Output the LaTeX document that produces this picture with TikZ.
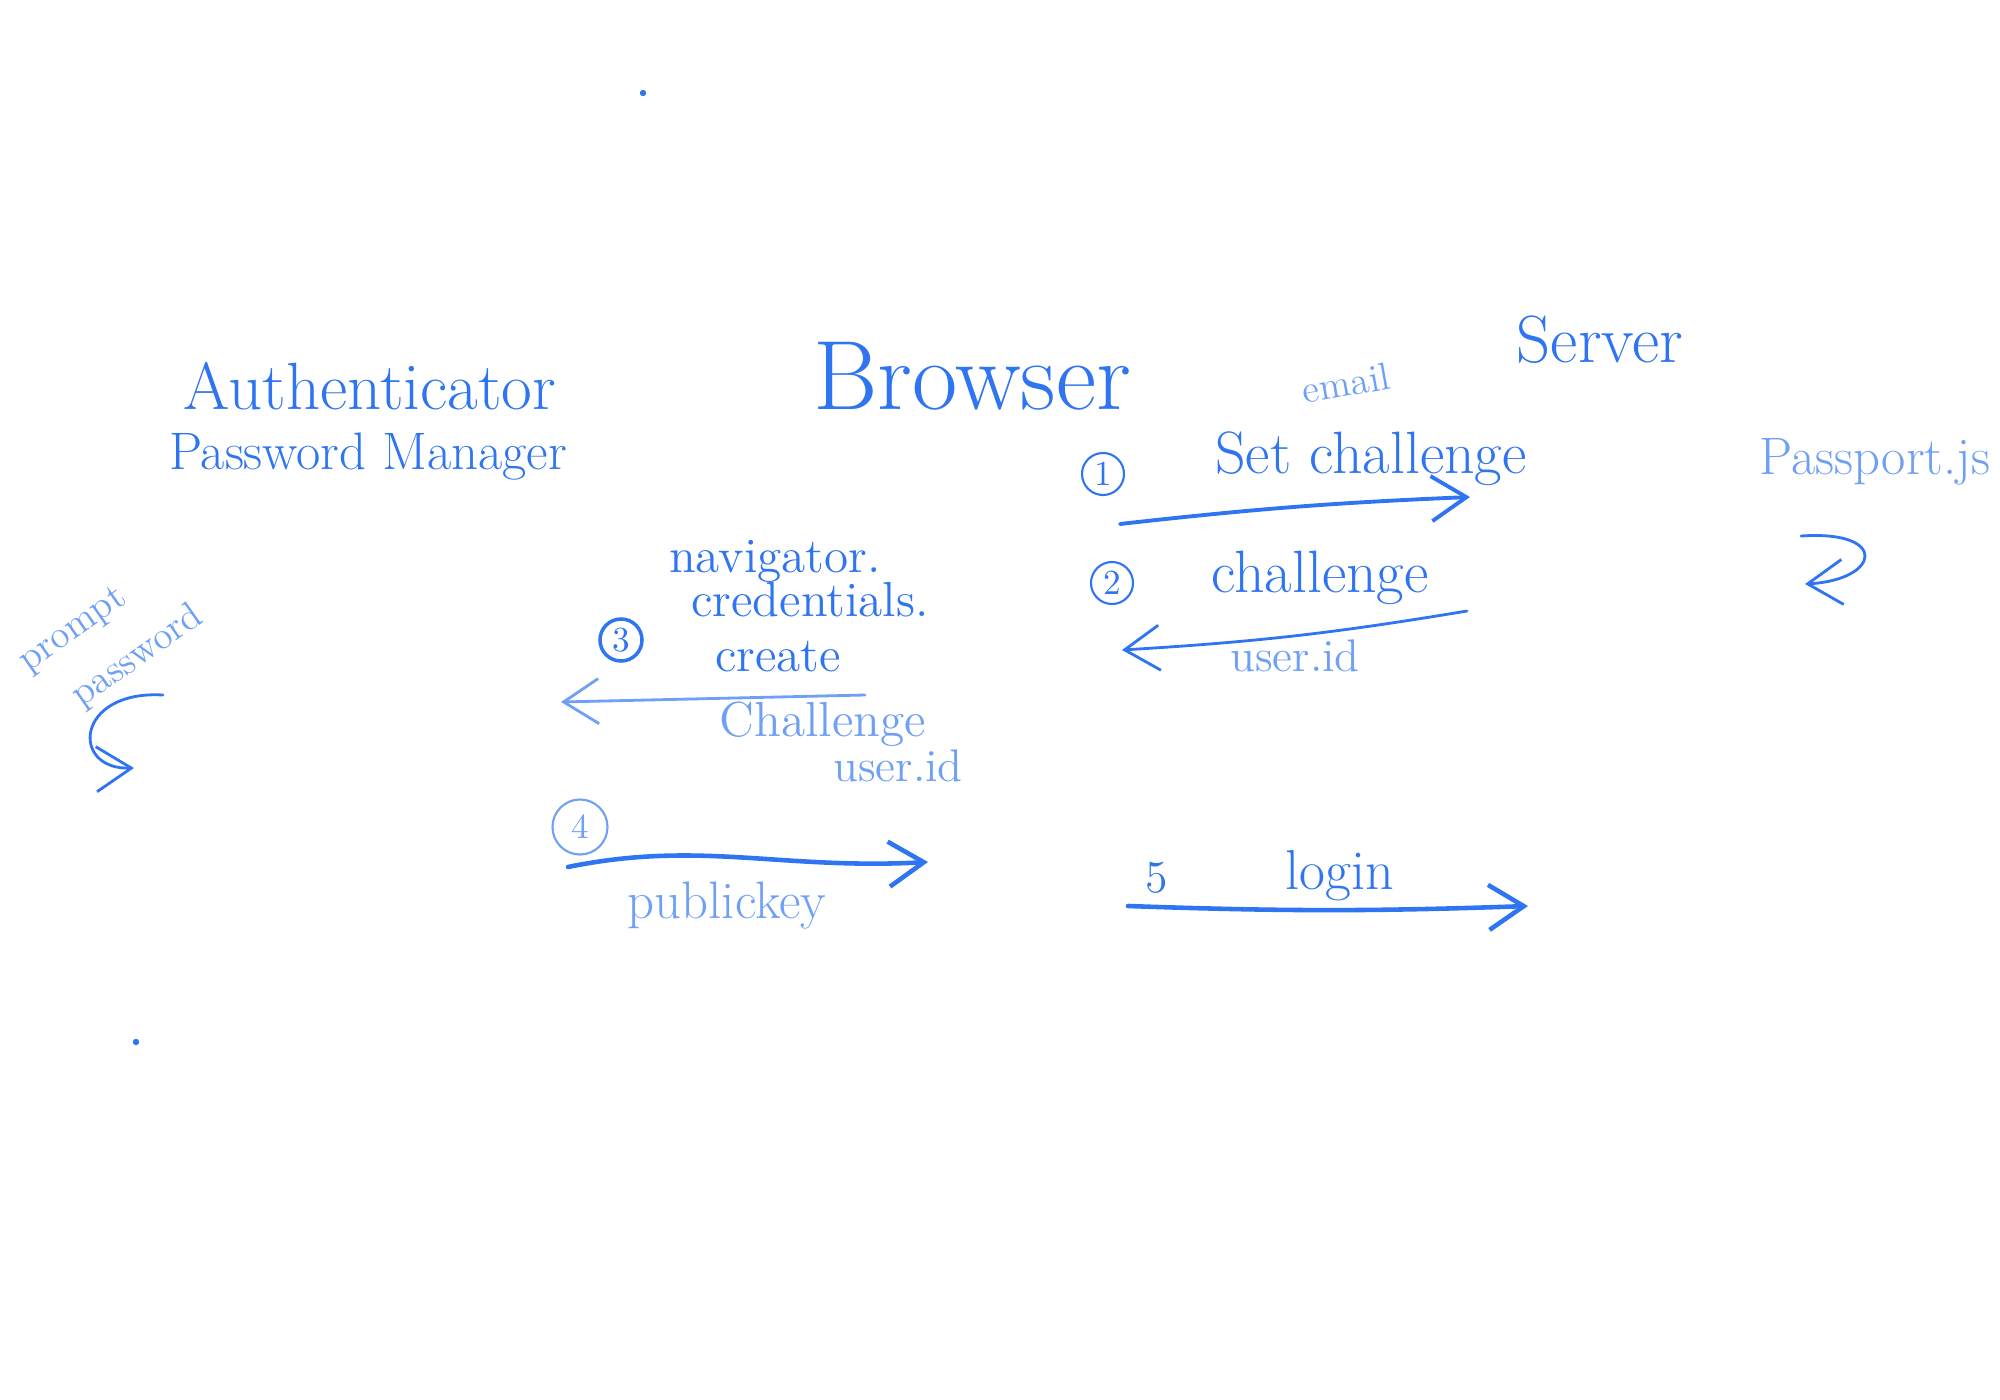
\documentclass[tikz,border=0pt]{standalone}
\usepackage{xcolor}
\usepackage{tikz}
\usetikzlibrary{arrows.meta, positioning, calc}

\definecolor{ink}{HTML}{2F74F0}
\definecolor{inklight}{HTML}{6FA0F5}

\tikzset{
	hand/.style={text=ink, inner sep=0pt},
	handlight/.style={text=inklight, inner sep=0pt},
	stepmark/.style={draw=ink, circle, text=ink, line width=0.6pt, inner sep=1pt, minimum size=0.42cm},
	stroke/.style={draw=ink, line width=1.1pt, line cap=round},
	barb/.style={-{Straight Barb[length=3.5mm, width=4.5mm]}},
}

\begin{document}
\begin{tikzpicture}[x=0.01cm, y=-0.01cm]
		\useasboundingbox (0,0) rectangle (2000,1400);
		
		% Stray dots
		\fill[ink] (643,93) circle (3.2);
		\fill[ink] (136,1042) circle (3.2);
		
		% Actors
		\node[hand, font=\fontsize{19}{19}\selectfont] (auth) at (370,386) {Authenticator};
		\node[hand, font=\fontsize{15}{15}\selectfont] (pwmgr) at (368,457) {Password Manager};
		\node[hand, font=\fontsize{28}{28}\selectfont] (browser) at (972,376) {Browser};
		\node[hand, font=\fontsize{19}{19}\selectfont] (server) at (1600,340) {Server};
		\node[handlight, font=\fontsize{15}{15}\selectfont] (passport) at (1875,462) {Passport.js};
		
		% Step 1: get challenge
		\node[stepmark] (one) at (1103,474) {1};
		\node[handlight, font=\fontsize{11}{11}\selectfont, rotate=10] (email) at (1346,383) {email};
		\node[hand, font=\fontsize{17}{17}\selectfont] (getch) at (1371,459) {Set challenge};
		\coordinate (s1a) at (1120,524);
		\coordinate (s1b) at (1470,497);
		\draw[stroke, barb] (s1a) to[bend left=2] (s1b);
		
		% Passport loop
		\coordinate (pa) at (1801,536);
		\coordinate (pb) at (1805,584);
		\draw[stroke, line width=0.8pt, barb] (pa) .. controls (1890,530) and (1880,580) .. (pb);
		
		% Step 2: challenge back
		\node[stepmark] (two) at (1112,583) {2};
		\node[hand, font=\fontsize{17}{17}\selectfont] (chal) at (1320,578) {challenge};
		\node[handlight, font=\fontsize{13}{13}\selectfont] (uid) at (1295,656) {user.id};
		\coordinate (s2a) at (1467,611);
		\coordinate (s2b) at (1122,650);
		\draw[stroke, line width=0.8pt, barb] (s2a) to[bend left=3] (s2b);
		
		% Step 3: navigator.credentials.create
		\node[hand, font=\fontsize{14}{14}\selectfont] (nav) at (775,561) {navigator.};
		\node[hand, font=\fontsize{14}{14}\selectfont] (cred) at (810,600) {credentials.};
		\node[hand, font=\fontsize{14}{14}\selectfont] (create) at (778,657) {create};
		\node[stepmark, line width=1pt] (three) at (621,640) {3};
		\coordinate (s3a) at (865,695);
		\coordinate (s3b) at (561,702);
		\draw[stroke, line width=0.8pt, draw=inklight, barb] (s3a) -- (s3b);
		\node[handlight, font=\fontsize{14}{14}\selectfont] (chal2) at (823,724) {Challenge};
		\node[handlight, font=\fontsize{13}{13}\selectfont] (uid2) at (898,766) {user.id};
		
		% Prompt on the authenticator
		\node[handlight, font=\fontsize{11}{17}\selectfont, rotate=35, align=left] (prompt) at (112,640) {prompt\\\hspace*{0.6em}password};
		\coordinate (la) at (163,695);
		\coordinate (lb) at (134,768);
		\draw[stroke, line width=0.8pt, barb] (la) .. controls (75,690) and (70,770) .. (lb);
		
		% Step 4: public key to the server
		\node[stepmark, draw=inklight, text=inklight, minimum size=0.55cm] (four) at (580,827) {4};
		\coordinate (s4a) at (568,867);
		\coordinate (s4b) at (928,862);
		\draw[stroke, line width=1.3pt, barb] (s4a) .. controls (700,840) and (780,870) .. (s4b);
		\node[handlight, font=\fontsize{15}{15}\selectfont] (pk) at (727,906) {publickey};
		
		% Step 5: login
		\node[hand, font=\fontsize{13}{13}\selectfont] (five) at (1157,878) {5};
		\node[hand, font=\fontsize{16}{16}\selectfont] (login) at (1340,876) {login};
		\coordinate (s5a) at (1128,906);
		\coordinate (s5b) at (1528,906);
		\draw[stroke, line width=1.3pt, barb] (s5a) to[bend right=2] (s5b);
	\end{tikzpicture}
\end{document}
